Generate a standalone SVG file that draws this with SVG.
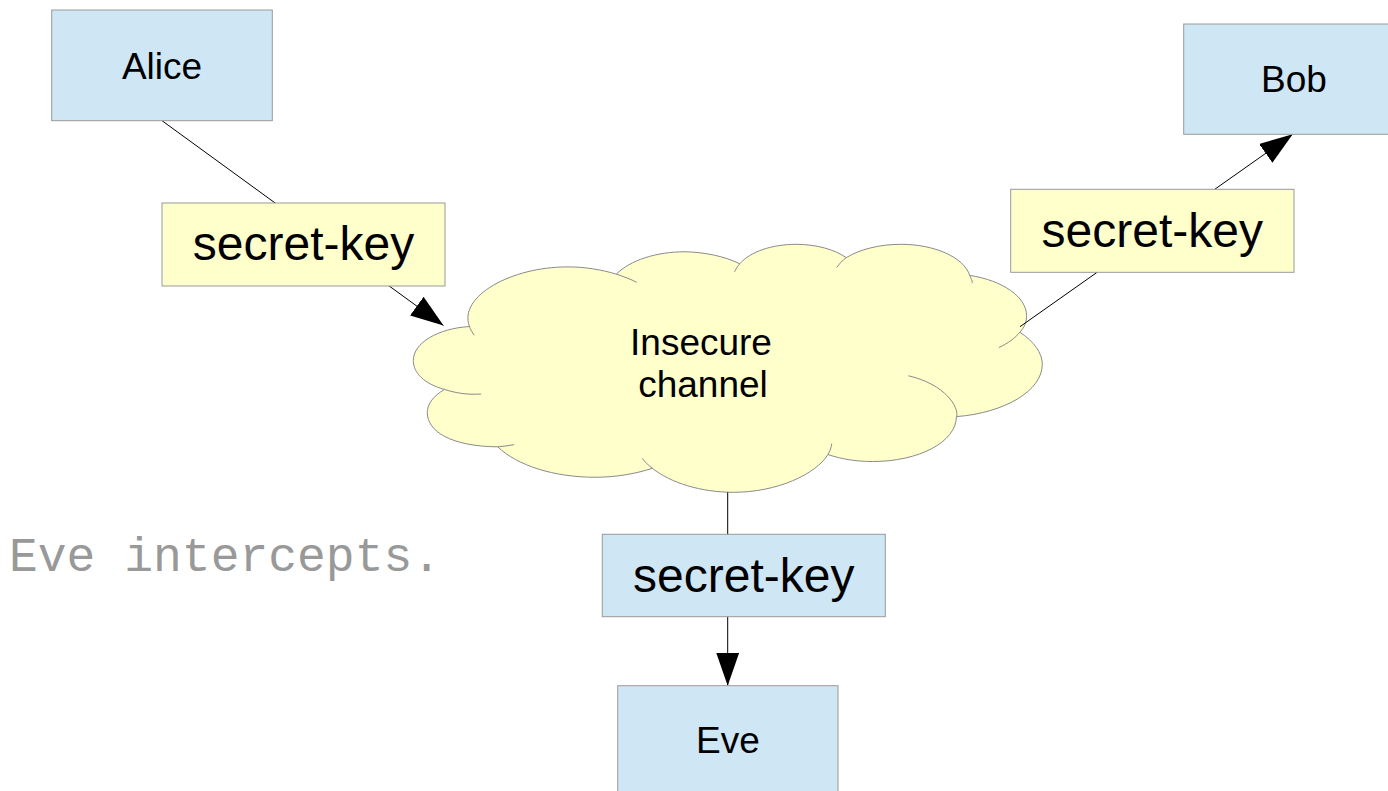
<svg xmlns="http://www.w3.org/2000/svg" width="1388" height="791" viewBox="0 0 1388 791">
  <style>
    .party { fill: #cfe7f5; stroke: #999999; stroke-width: 1; }
    .key-y { fill: #ffffcc; stroke: #999999; stroke-width: 1; }
    .key-b { fill: #cfe7f5; stroke: #999999; stroke-width: 1; }
    .label { font-family: "Liberation Sans", Arial, sans-serif; fill: #000000; text-anchor: middle; }
    .name { font-size: 37px; }
    .key { font-size: 48px; }
    .cloud { fill: #ffffcc; stroke: #8a8a8a; stroke-width: 1; vector-effect: non-scaling-stroke; }
    .crease { fill: none; stroke: #8a8a8a; stroke-width: 1; vector-effect: non-scaling-stroke; }
    .edge { fill: none; stroke: #000000; stroke-width: 1; marker-end: url(#arrow); }
    .note { font-family: "Liberation Mono", "Courier New", monospace; font-size: 48px; fill: #999999; }
  </style>
  <defs>
    <marker id="arrow" markerUnits="userSpaceOnUse" viewBox="0 0 33 23" markerWidth="33" markerHeight="23" refX="33" refY="11.5" orient="auto">
      <path d="M0,0 L33,11.5 L0,23 Z" fill="#000000"/>
    </marker>
  </defs>

  <rect width="1388" height="791" fill="#ffffff"/>

  <!-- cloud shape, drawn in a 21600 unit box and scaled into place -->
  <g id="channel">
    <g transform="translate(413.3,244.3) scale(0.0291204,0.0114815)">
      <path class="cloud" d="M1930 7160 C1530 4490 3400 1970 5270 1970 C5860 1950 6470 2210 6970 2600 C7450 1390 8340 650 9340 650 C10004 690 10710 1050 11210 1700 C11570 630 12330 0 13150 0 C13840 0 14470 460 14870 1160 C15330 440 16020 0 16740 0 C17910 0 18900 1130 19110 2710 C20240 3150 21060 4580 21060 6220 C21060 6720 21000 7200 20830 7660 C21310 8460 21600 9450 21600 10460 C21600 12750 20310 14680 18650 15010 C18650 17200 17370 18920 15770 18920 C15220 18920 14700 18710 14240 18310 C13820 20030 12490 21600 11000 21600 C9890 21600 8840 20790 8210 19510 C7620 20000 6940 20290 6240 20290 C4850 20290 3570 19280 2900 17640 C1300 17600 480 16300 480 14660 C480 13900 690 13210 1070 12640 C380 12160 0 11210 0 10120 C0 8590 840 7330 1930 7160 Z"/>
      <path class="crease" d="M1930 7160 C1950 7410 2040 7690 2090 7920 M6970 2600 C7200 2790 7480 3050 7670 3310 M11210 1700 C11130 1910 11080 2160 11030 2400 M14870 1160 C14720 1400 14640 1720 14540 2010 M19110 2710 C19130 2890 19230 3290 19190 3380 M20830 7660 C20660 8170 20430 8620 20110 8990 M18660 15010 C18740 14200 18280 12200 17000 11450 M14240 18310 C14320 17980 14350 17680 14370 17360 M8220 19510 C8060 19250 7960 18950 7860 18640 M2900 17640 C3090 17600 3280 17540 3460 17450 M1070 12640 C1400 12900 1780 13130 2330 13040"/>
    </g>
    <text class="label name" x="701" y="355">Insecure</text>
    <text class="label name" x="703" y="397">channel</text>
  </g>

  <!-- connectors -->
  <g id="connectors">
    <line class="edge" x1="162" y1="120.7" x2="443.5" y2="325.5"/>
    <line class="edge" x1="1020" y1="326.7" x2="1292.7" y2="134.3"/>
    <line class="edge" x1="727.7" y1="492.3" x2="727.7" y2="685.7"/>
  </g>

  <g id="alice">
    <rect class="party" x="51.7" y="10" width="220.6" height="110.7"/>
    <text class="label name" x="162" y="79">Alice</text>
  </g>

  <g id="bob">
    <rect class="party" x="1183.7" y="24" width="220.6" height="110.3"/>
    <text class="label name" x="1294" y="92">Bob</text>
  </g>

  <g id="eve">
    <rect class="party" x="617.7" y="685.7" width="220.3" height="110.5"/>
    <text class="label name" x="728" y="753">Eve</text>
  </g>

  <g id="key-alice">
    <rect class="key-y" x="162" y="203" width="283" height="83"/>
    <text class="label key" x="303.5" y="260">secret-key</text>
  </g>

  <g id="key-bob">
    <rect class="key-y" x="1010.7" y="189.3" width="283.3" height="83"/>
    <text class="label key" x="1152.3" y="247">secret-key</text>
  </g>

  <g id="key-eve">
    <rect class="key-b" x="602.3" y="534.3" width="283" height="82.4"/>
    <text class="label key" x="743.8" y="592">secret-key</text>
  </g>

  <text class="note" x="9" y="571">Eve intercepts.</text>
</svg>
